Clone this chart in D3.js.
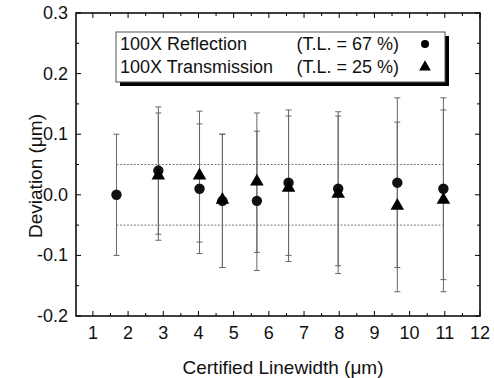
<!DOCTYPE html>
<html>
<head>
<meta charset="utf-8">
<script src="https://cdn.jsdelivr.net/npm/d3@7"></script>
<style>
  body { margin: 0; background: #fff; }
  text { font-family: "Liberation Sans", Arial, sans-serif; fill: #111; }
</style>
</head>
<body>
<div id="chart"></div>
<script>
// Linewidth positions (um) and deviations
const reflX   = [1.67, 2.86, 4.03, 4.68, 5.66, 6.56, 7.97, 9.65, 10.96];
const reflY   = [0.00, 0.04, 0.01, -0.01, -0.01, 0.02, 0.01, 0.02, 0.01];
const reflErr = [0.10, 0.105, 0.107, 0.11, 0.115, 0.12, 0.127, 0.14, 0.15];

const transX   = [2.86, 4.03, 4.68, 5.66, 6.56, 7.97, 9.65, 10.96];
const transY   = [0.03, 0.03, -0.01, 0.02, 0.01, 0.00, -0.02, -0.01];
const transErr = [0.105, 0.108, 0.11, 0.115, 0.12, 0.13, 0.14, 0.15];

// tolerance band
const limits = [0.05, -0.05];
const limitX = [1.67, 10.96];

const xTicks = d3.range(1, 13);
const yTicks = [-0.2, -0.1, 0.0, 0.1, 0.2, 0.3];

const legendRows = [
  {name: "100X Reflection", tl: "(T.L. = 67 %)", sym: "circle"},
  {name: "100X Transmission", tl: "(T.L. = 25 %)", sym: "triangle"}
];

const W = 494, H = 378;
const margin = {top: 13, right: 14, bottom: 62, left: 76};

const svg = d3.select("#chart").append("svg")
  .attr("width", W).attr("height", H);

const x = d3.scaleLinear().domain([0.52, 12]).range([margin.left, W - margin.right]);
const y = d3.scaleLinear().domain([-0.2, 0.3]).range([H - margin.bottom, margin.top]);

const x0 = margin.left, x1 = W - margin.right, y0 = H - margin.bottom, y1 = margin.top;

// tolerance lines
limits.forEach(v => {
  svg.append("line")
    .attr("x1", x(limitX[0])).attr("x2", x(limitX[1]))
    .attr("y1", y(v)).attr("y2", y(v))
    .attr("stroke", "#777").attr("stroke-width", 1)
    .attr("stroke-dasharray", "2,1.5");
});

// error bars
function errorBars(xs, ys, es) {
  const g = svg.append("g").attr("stroke", "#666").attr("stroke-width", 1);
  xs.forEach((xv, i) => {
    const cx = x(xv), top = y(ys[i] + es[i]), bot = y(ys[i] - es[i]);
    g.append("line").attr("x1", cx).attr("x2", cx).attr("y1", top).attr("y2", bot);
    g.append("line").attr("x1", cx - 3).attr("x2", cx + 3).attr("y1", top).attr("y2", top);
    g.append("line").attr("x1", cx - 3).attr("x2", cx + 3).attr("y1", bot).attr("y2", bot);
  });
}
errorBars(reflX, reflY, reflErr);
errorBars(transX, transY, transErr);

// markers
const circleSym = d3.symbol().type(d3.symbolCircle).size(85);
const triSym = d3.symbol().type(d3.symbolTriangle).size(80);

svg.append("g").selectAll("path")
  .data(reflX.map((d, i) => [d, reflY[i]]))
  .join("path")
  .attr("d", circleSym)
  .attr("transform", d => `translate(${x(d[0])},${y(d[1])})`)
  .attr("fill", "#111");

svg.append("g").selectAll("path")
  .data(transX.map((d, i) => [d, transY[i]]))
  .join("path")
  .attr("d", triSym)
  .attr("transform", d => `translate(${x(d[0])},${y(d[1]) - 1})`)
  .attr("fill", "#000");

// axes: ticks inward on all four sides
const minorX = d3.range(1.5, 12, 1);
const minorY = d3.range(-0.15, 0.3, 0.1);

const axes = svg.append("g").attr("stroke", "#000").attr("stroke-width", 1);
xTicks.forEach(t => {
  axes.append("line").attr("x1", x(t)).attr("x2", x(t)).attr("y1", y0).attr("y2", y0 - 5);
  axes.append("line").attr("x1", x(t)).attr("x2", x(t)).attr("y1", y1).attr("y2", y1 + 5);
});
minorX.forEach(t => {
  axes.append("line").attr("x1", x(t)).attr("x2", x(t)).attr("y1", y0).attr("y2", y0 - 3);
  axes.append("line").attr("x1", x(t)).attr("x2", x(t)).attr("y1", y1).attr("y2", y1 + 3);
});
yTicks.forEach(t => {
  axes.append("line").attr("x1", x0).attr("x2", x0 + 5).attr("y1", y(t)).attr("y2", y(t));
  axes.append("line").attr("x1", x1).attr("x2", x1 - 5).attr("y1", y(t)).attr("y2", y(t));
});
minorY.forEach(t => {
  axes.append("line").attr("x1", x0).attr("x2", x0 + 3).attr("y1", y(t)).attr("y2", y(t));
  axes.append("line").attr("x1", x1).attr("x2", x1 - 3).attr("y1", y(t)).attr("y2", y(t));
});

svg.append("rect")
  .attr("x", x0).attr("y", y1).attr("width", x1 - x0).attr("height", y0 - y1)
  .attr("fill", "none").attr("stroke", "#000").attr("stroke-width", 1.5);

// tick labels
svg.append("g").selectAll("text")
  .data(xTicks).join("text")
  .attr("x", d => x(d)).attr("y", y0 + 23)
  .attr("text-anchor", "middle").attr("font-size", 18)
  .text(d => d);

// plain hyphen for negatives, as in the original
svg.append("g").selectAll("text")
  .data(yTicks).join("text")
  .attr("x", x0 - 8).attr("y", d => y(d) + 6)
  .attr("text-anchor", "end").attr("font-size", 18)
  .text(d => d.toFixed(1));

// axis titles
svg.append("text")
  .attr("x", 283).attr("y", 374)
  .attr("text-anchor", "middle").attr("font-size", 19)
  .text("Certified Linewidth (\u03bcm)");

svg.append("text")
  .attr("transform", "translate(42,176) rotate(-90)")
  .attr("text-anchor", "middle").attr("font-size", 19)
  .text("Deviation (\u03bcm)");

// legend box with shadow
const lg = svg.append("g");
lg.append("rect").attr("x", 120).attr("y", 36).attr("width", 329).attr("height", 50).attr("fill", "#000");
lg.append("rect").attr("x", 116).attr("y", 32).attr("width", 329).attr("height", 50)
  .attr("fill", "#fff").attr("stroke", "#555").attr("stroke-width", 1);

const row = lg.selectAll("g.row").data(legendRows).join("g")
  .attr("transform", (_, i) => `translate(0,${50 + i * 23})`);
row.append("text").attr("x", 120).attr("font-size", 18).text(d => d.name);
row.append("text").attr("x", 399).attr("text-anchor", "end").attr("font-size", 18).text(d => d.tl);
row.append("path")
  .attr("d", d => d.sym === "circle" ? d3.symbol().type(d3.symbolCircle).size(50)() : d3.symbol().type(d3.symbolTriangle).size(60)())
  .attr("transform", "translate(425,-6)")
  .attr("fill", "#000");
</script>
</body>
</html>
